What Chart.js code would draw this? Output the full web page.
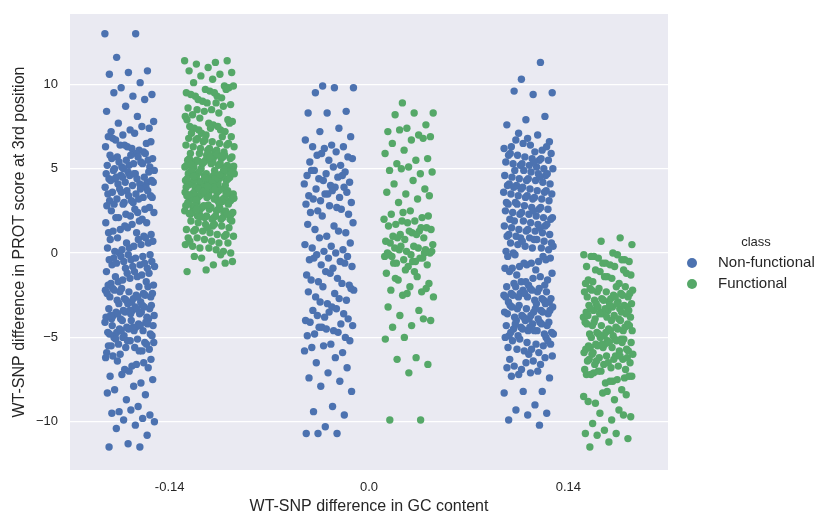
<!DOCTYPE html>
<html>
<head>
<meta charset="utf-8">
<script src="https://cdn.jsdelivr.net/npm/chart.js@4.4.0/dist/chart.umd.min.js"></script>
<style>
  html, body { margin: 0; padding: 0; background: #ffffff; }
  #c { display: block; }
</style>
</head>
<body>
<canvas id="c" width="816" height="514"></canvas>
<script>
// categories on the x axis (WT-SNP difference in GC content)
const categories = ['-0.14', '0.0', '0.14'];
const yTicks = [-10, -5, 0, 5, 10];
const classNames = ['Non-functional', 'Functional'];

// Non-functional, one list per category
const nfLow = [13.0,13.0,11.6,10.8,10.7,10.6,10.1,9.8,9.4,9.3,9.5,9.1,8.7,8.4,8.1,
  7.7,7.4,7.3,7.2,7.5,7.0,7.8,7.1,
  6.7,6.5,6.3,6.9,6.1,6.4,6.6,6.2,6.8,6.0,6.4,6.3,
  5.9,5.7,5.5,5.2,5.8,5.4,5.1,5.6,5.3,5.0,5.9,5.5,5.2,5.7,5.4,5.1,5.8,5.6,5.3,5.0,
  4.9,4.7,4.5,4.2,4.8,4.4,4.1,4.6,4.3,4.0,4.9,4.5,4.2,4.7,4.4,4.1,4.8,4.6,4.3,4.0,4.5,4.2,4.7,4.4,
  3.9,3.7,3.5,3.2,3.8,3.4,3.1,3.6,3.3,3.0,3.9,3.5,3.2,3.7,3.4,3.1,3.8,3.6,3.3,3.0,
  2.9,2.6,2.3,2.8,2.4,2.1,2.7,2.2,2.5,2.0,2.9,2.4,2.6,2.1,
  1.8,1.5,1.2,1.9,1.4,1.1,1.7,1.3,1.0,1.6,1.8,1.2,
  0.9,0.6,0.3,0.8,0.5,0.2,0.7,0.4,0.1,0.9,0.6,0.3,0.8,0.0,
  -0.1,-0.4,-0.7,-0.2,-0.5,-0.8,-0.3,-0.6,-0.9,-0.1,-0.4,-0.7,-0.2,-0.5,-0.8,-0.3,-0.6,-0.9,
  -1.1,-1.4,-1.7,-1.2,-1.5,-1.8,-1.3,-1.6,-1.9,-1.1,-1.4,-1.7,-1.2,-1.9,
  -2.0,-2.3,-2.6,-2.9,-2.1,-2.4,-2.7,-2.2,-2.5,-2.8,-2.0,-2.3,-2.6,-2.9,-2.1,-2.4,-2.7,-2.2,-2.5,-2.8,-2.4,-2.6,
  -3.0,-3.3,-3.6,-3.9,-3.1,-3.4,-3.7,-3.2,-3.5,-3.8,-3.0,-3.3,-3.6,-3.9,-3.1,-3.4,-3.7,-3.2,-3.5,-3.8,-3.3,-3.6,-3.9,-3.4,-3.7,-3.5,
  -4.0,-4.3,-4.6,-4.9,-4.1,-4.4,-4.7,-4.2,-4.5,-4.8,-4.0,-4.3,-4.6,-4.9,-4.1,-4.4,-4.7,-4.2,-4.5,-4.8,-4.3,-4.6,-4.9,-4.4,
  -5.0,-5.3,-5.6,-5.9,-5.1,-5.4,-5.7,-5.2,-5.5,-5.8,-5.0,-5.3,-5.6,-5.1,-5.4,-5.2,-5.5,-5.8,
  -6.0,-6.3,-6.7,-6.1,-6.5,-6.9,-6.2,-6.6,-6.4,-6.8,
  -7.0,-7.3,-7.7,-7.2,-7.5,-7.9,
  -8.1,-8.4,-8.7,-8.3,
  -9.1,-9.4,-9.6,-9.3,-9.5,-9.8,-9.9,
  -10.0,-10.2,-10.4,-10.8,
  -11.3,-11.5,-11.5];

const nfMid = [9.9,9.8,9.8,9.5,
  8.4,8.3,8.3,
  7.4,7.2,6.9,
  6.4,6.3,6.3,6.2,6.7,6.0,
  5.8,5.7,5.5,5.4,5.2,5.9,5.6,5.1,
  4.9,4.8,4.7,4.6,4.5,4.4,4.2,4.0,4.9,4.6,4.3,4.1,
  3.9,3.8,3.6,3.5,3.4,3.3,3.1,3.0,3.7,3.2,3.9,3.5,
  2.9,2.7,2.5,2.3,2.8,2.4,2.6,2.2,
  1.8,1.6,1.4,1.2,1.0,1.7,1.3,
  0.9,0.6,0.4,0.3,0.2,0.1,0.5,0.0,
  -0.1,-0.2,-0.3,-0.4,-0.5,-0.7,-0.8,-0.9,-0.3,-0.6,
  -1.1,-1.3,-1.5,-1.7,-1.9,-1.2,-1.6,-1.8,
  -2.0,-2.2,-2.4,-2.6,-2.8,-3.0,-2.3,-2.7,-2.9,-2.1,
  -3.2,-3.4,-3.6,-3.8,-4.0,-3.3,-3.7,-3.9,-3.5,-4.1,
  -4.2,-4.4,-4.3,-4.6,-4.8,-5.0,-4.5,-4.9,-4.7,-4.4,
  -5.2,-5.4,-5.6,-5.9,-5.5,-5.8,
  -6.2,-6.5,-6.8,-7.1,-7.4,
  -7.6,-7.9,-8.2,
  -9.1,-9.4,-9.6,
  -10.3,-10.7,-10.7,-10.7];

const nfHigh = [11.3,10.3,9.5,9.4,9.6,
  8.1,7.9,7.6,7.0,7.1,
  6.6,6.4,6.3,6.1,6.5,6.2,6.0,6.7,6.3,6.8,
  5.8,5.5,5.2,5.9,5.6,5.3,5.0,5.7,5.4,5.1,5.8,5.5,5.2,5.9,5.6,5.3,5.0,5.4,
  4.9,4.6,4.3,4.0,4.7,4.4,4.1,4.8,4.5,4.2,4.9,4.6,4.3,4.0,4.7,4.4,4.1,4.5,
  3.8,3.5,3.2,3.9,3.6,3.3,3.0,3.7,3.4,3.1,3.8,3.5,3.2,3.9,3.6,3.3,3.0,3.7,3.4,
  2.9,2.6,2.3,2.0,2.7,2.4,2.1,2.8,2.5,2.2,2.9,2.6,2.3,2.0,2.7,2.4,2.1,2.5,
  1.9,1.6,1.3,1.0,1.7,1.4,1.1,1.8,1.5,1.2,1.9,1.6,1.3,1.0,1.7,1.4,1.1,1.5,
  0.9,0.6,0.3,0.0,0.7,0.4,0.1,0.8,0.5,0.2,0.9,0.6,0.3,0.7,0.4,0.8,
  -0.1,-0.4,-0.7,-0.2,-0.5,-0.8,-0.3,-0.6,-0.9,-0.2,-0.6,-0.9,
  -1.0,-1.3,-1.6,-1.9,-1.1,-1.4,-1.7,-1.2,-1.5,-1.8,-1.9,-1.7,
  -2.0,-2.3,-2.6,-2.9,-2.1,-2.4,-2.7,-2.2,-2.5,-2.8,-2.0,-2.3,-2.6,-2.9,-2.1,-2.4,-2.7,-2.2,-2.5,-2.8,-2.4,-2.6,
  -3.0,-3.3,-3.6,-3.9,-3.1,-3.4,-3.7,-3.2,-3.5,-3.8,-3.0,-3.3,-3.6,-3.9,-3.1,-3.4,-3.7,-3.2,-3.5,-3.8,-3.5,-3.3,
  -4.0,-4.3,-4.6,-4.9,-4.1,-4.4,-4.7,-4.2,-4.5,-4.8,-4.0,-4.3,-4.6,-4.9,-4.1,-4.4,-4.7,-4.2,-4.5,-4.8,-4.6,-4.2,
  -5.0,-5.3,-5.6,-5.9,-5.1,-5.4,-5.7,-5.2,-5.5,-5.8,-5.0,-5.4,-5.7,-5.2,
  -6.0,-6.3,-6.6,-6.9,-6.1,-6.4,-6.7,-6.2,-6.5,-6.8,
  -7.0,-7.2,-7.4,-7.1,-7.3,
  -8.2,-8.2,-8.3,-9.0,-9.3,-9.5,-9.6,-9.9,-10.2];

// Functional, one list per category
const fLow = [11.4,11.3,11.2,11.4,11.0,
  10.8,10.6,10.5,10.7,10.3,10.1,
  9.9,9.7,9.5,9.3,9.1,9.8,9.6,9.4,9.2,9.0,9.9,9.5,9.3,9.7,
  8.9,8.6,8.3,8.0,8.8,8.5,8.2,8.7,8.4,8.1,8.9,8.5,
  7.9,7.7,7.5,7.3,7.1,7.8,7.6,7.4,7.2,7.0,7.9,7.5,7.3,7.7,7.4,7.1,
  6.9,6.6,6.3,6.0,6.7,6.4,6.1,6.8,6.5,6.2,6.9,6.6,6.3,6.0,6.7,6.4,6.1,6.8,6.5,6.2,
  5.9,5.6,5.3,5.0,5.7,5.4,5.1,5.8,5.5,5.2,5.9,5.6,5.3,5.0,5.7,5.4,5.1,5.8,5.5,5.2,
  5.9,5.6,5.3,5.0,5.7,5.4,5.1,5.8,5.5,5.2,5.85,5.45,5.05,5.65,5.25,5.75,5.35,5.15,
  4.9,4.6,4.3,4.0,4.7,4.4,4.1,4.8,4.5,4.2,4.9,4.6,4.3,4.0,4.7,4.4,4.1,4.8,4.5,4.2,
  4.9,4.6,4.3,4.0,4.7,4.4,4.1,4.8,4.5,4.2,4.9,4.6,4.3,4.7,4.4,4.5,
  4.85,4.35,4.05,4.65,4.25,4.75,4.15,4.55,4.95,4.45,
  3.9,3.6,3.3,3.0,3.7,3.4,3.1,3.8,3.5,3.2,3.9,3.6,3.3,3.0,3.7,3.4,3.1,3.8,3.5,3.2,
  3.9,3.6,3.3,3.0,3.7,3.4,3.1,3.8,3.5,3.2,3.9,3.6,3.3,3.7,3.4,3.1,3.8,3.5,
  3.85,3.35,3.05,3.65,3.25,3.75,3.15,3.55,3.95,3.45,
  2.9,2.6,2.3,2.0,2.7,2.4,2.1,2.8,2.5,2.2,2.9,2.6,2.3,2.0,2.7,2.4,2.1,2.8,2.5,2.2,
  2.9,2.6,2.3,2.0,2.7,2.4,2.1,2.8,2.5,2.2,2.6,2.3,2.85,2.35,2.65,2.15,
  1.9,1.6,1.3,1.0,1.7,1.4,1.1,1.8,1.5,1.2,1.9,1.6,1.3,1.0,1.7,1.4,1.1,1.5,
  0.9,0.6,0.3,0.0,0.7,0.4,0.1,0.8,0.5,0.2,0.9,0.6,0.3,0.7,
  -0.1,-0.3,-0.5,-0.7,-0.2,-0.6,-1.0,-1.1];

const fMid = [8.9,8.3,8.3,8.2,
  7.6,7.4,7.2,7.0,7.3,6.9,6.7,6.5,6.8,
  6.1,5.9,5.5,5.3,5.6,5.1,4.9,4.7,5.0,4.8,
  4.3,4.1,3.8,3.5,3.6,3.2,3.0,3.4,
  2.5,2.3,2.1,2.4,2.0,1.9,1.7,1.5,1.8,1.6,1.3,1.1,1.4,1.2,1.0,0.9,0.8,0.7,1.1,0.9,2.2,1.3,0.6,1.5,1.9,
  0.5,0.4,0.3,0.2,0.1,0.0,0.3,0.2,0.0,-0.1,-0.2,-0.3,-0.4,-0.2,-0.5,-0.6,-0.7,-0.8,-0.1,-0.3,0.4,0.1,-0.5,-0.6,0.0,
  -1.0,-1.2,-1.4,-1.6,-1.8,-2.0,-2.2,-2.3,-2.5,-2.6,-1.1,-1.5,-2.1,-2.4,
  -3.2,-3.4,-3.7,-4.0,-4.3,-4.4,-3.9,
  -5.0,-5.1,-6.2,-6.3,-6.6,-7.1,-9.9,-9.9];

const fHigh = [0.9,0.7,0.5,
  0.0,-0.2,-0.4,-0.6,-0.8,-0.1,-0.3,-0.5,-0.7,-0.2,-0.4,-0.6,-0.1,-0.8,
  -1.0,-1.2,-1.4,-1.6,-1.8,-1.1,-1.3,-1.5,-1.7,-1.0,-1.4,-1.8,
  -2.0,-2.3,-2.6,-2.9,-2.1,-2.4,-2.7,-2.2,-2.5,-2.8,-2.0,-2.3,-2.6,-2.9,-2.1,-2.4,-2.7,-2.2,-2.5,-2.8,-2.3,-2.6,
  -3.0,-3.2,-3.4,-3.1,-3.3,-3.5,-3.0,-3.2,-3.4,-3.1,-3.3,-3.5,-3.0,-3.2,-3.4,-3.1,-3.3,-3.5,
  -3.6,-3.8,-3.7,-3.9,-3.6,-3.8,-3.7,-3.9,-3.6,-3.8,
  -4.0,-4.3,-4.6,-4.9,-4.1,-4.4,-4.7,-4.2,-4.5,-4.8,-4.0,-4.3,-4.6,-4.9,-4.1,-4.4,-4.7,-4.2,-4.5,-4.8,-4.3,-4.6,
  -5.0,-5.3,-5.6,-5.9,-5.1,-5.4,-5.7,-5.2,-5.5,-5.8,-5.0,-5.3,-5.6,-5.9,-5.1,-5.4,-5.7,-5.2,-5.5,-5.8,-5.3,-5.6,-5.1,-5.4,
  -6.0,-6.3,-6.6,-6.9,-6.1,-6.4,-6.7,-6.2,-6.5,-6.8,-6.0,-6.3,-6.6,-6.9,-6.1,-6.4,-6.2,-6.5,-6.3,-6.1,
  -7.0,-7.3,-7.6,-7.1,-7.4,-7.7,-7.2,-7.5,-7.0,-7.3,-7.6,-7.2,
  -8.1,-8.3,-8.5,-8.7,-8.9,-8.4,-8.2,-8.8,
  -9.3,-9.5,-9.7,-9.9,-10.1,-9.6,
  -10.5,-10.7,-10.7,-10.8,-11.0,-11.2,-11.5];

const nonFunctional = [nfLow, nfMid, nfHigh];
const functional = [fLow, fMid, fHigh];

const BLUE = '#4C72B0';
const GREEN = '#55A868';
const TEXT = '#262626';
const FONT = '"Liberation Sans", Arial, sans-serif';

// strip plot: dodge each class inside its category, spread points sideways
const toPoints = (groups, dodge) => {
  const pts = [];
  groups.forEach((vals, ci) => {
    vals.forEach((v, k) => {
      const j = ((k * 0.6180339887 + ci * 0.37) % 1) - 0.5;
      pts.push({ x: ci + dodge + j * 0.25, y: v });
    });
  });
  return pts;
};

const bgPlugin = {
  id: 'bg',
  beforeDraw(chart) {
    const a = chart.chartArea, ctx = chart.ctx;
    ctx.save();
    ctx.fillStyle = '#EAEAF2';
    ctx.fillRect(a.left, a.top, a.right - a.left, a.bottom - a.top);
    ctx.restore();
  }
};

// legend to the right of the axes, seaborn style
const legendPlugin = {
  id: 'sideLegend',
  afterDraw(chart) {
    const ctx = chart.ctx;
    const x0 = chart.chartArea.right + 24;
    ctx.save();
    ctx.textBaseline = 'middle';
    ctx.fillStyle = TEXT;
    ctx.font = '13px ' + FONT;
    ctx.textAlign = 'center';
    ctx.fillText('class', x0 + 64, 242);
    ctx.textAlign = 'left';
    [BLUE, GREEN].forEach((c, i) => {
      const y = 263 + i * 21;
      ctx.beginPath();
      ctx.fillStyle = c;
      ctx.arc(x0, y, 5, 0, Math.PI * 2);
      ctx.fill();
      ctx.fillStyle = TEXT;
      ctx.font = '15px ' + FONT;
      ctx.fillText(classNames[i], x0 + 26, y);
    });
    ctx.restore();
  }
};

new Chart(document.getElementById('c'), {
  type: 'scatter',
  data: {
    datasets: [
      { label: classNames[0], data: toPoints(nonFunctional, -0.2), backgroundColor: BLUE,
        pointRadius: 3.7, borderWidth: 0, pointHoverRadius: 3.7 },
      { label: classNames[1], data: toPoints(functional, 0.2), backgroundColor: GREEN,
        pointRadius: 3.7, borderWidth: 0, pointHoverRadius: 3.7 }
    ]
  },
  options: {
    responsive: false,
    animation: false,
    layout: { padding: { left: 0, right: 148, top: 14, bottom: 0 } },
    plugins: { legend: { display: false }, tooltip: { enabled: false } },
    scales: {
      x: {
        type: 'linear', min: -0.5, max: 2.5,
        afterBuildTicks: s => { s.ticks = categories.map((c, i) => ({ value: i })); },
        afterFit: s => { s.height = 44; s.paddingLeft = 0; s.paddingRight = 0; },
        grid: { display: false, drawTicks: false },
        border: { display: false },
        ticks: { color: TEXT, padding: 10, font: { size: 13, family: FONT },
                 callback: v => categories[v] },
        title: { display: true, text: 'WT-SNP difference in GC content', color: TEXT,
                 font: { size: 16, family: FONT, lineHeight: 1 }, padding: { top: 0, bottom: -1 } }
      },
      y: {
        min: -12.86, max: 14.17,
        afterBuildTicks: s => { s.ticks = yTicks.map(v => ({ value: v })); },
        afterFit: s => { s.width = 70; s.paddingTop = 0; s.paddingBottom = 0; },
        grid: { color: '#ffffff', lineWidth: 1.3, drawTicks: false },
        border: { display: false },
        ticks: { color: TEXT, padding: 12, font: { size: 13, family: FONT },
                 callback: v => (v < 0 ? '\u2212' + Math.abs(v) : String(v)) },
        title: { display: true, text: 'WT-SNP difference in PROT score at 3rd position', color: TEXT,
                 font: { size: 16, family: FONT }, padding: { top: 10, bottom: 0 } }
      }
    }
  },
  plugins: [bgPlugin, legendPlugin]
});
</script>
</body>
</html>
